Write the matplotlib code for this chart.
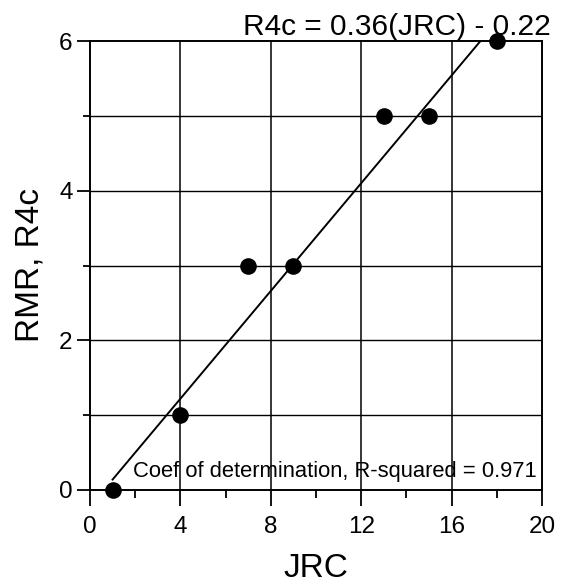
import numpy as np
import matplotlib
matplotlib.use("Agg")
import matplotlib.pyplot as plt
from matplotlib.ticker import MultipleLocator

# datos
jrc = [1, 4, 7, 9, 13, 15, 18]
r4c = [0, 1, 3, 3, 5, 5, 6]
pendiente = 0.36
intercepto = -0.22
x_linea = [1, 17.28]
r_cuadrado = 0.971

plt.rcParams['font.family'] = ['Liberation Sans', 'DejaVu Sans']

fig = plt.figure(figsize=(5.64, 5.87), dpi=100)
ax = fig.add_axes([90 / 564, 1 - 490 / 587, 452 / 564, 449 / 587])

ax.set_xlim(0, 20)
ax.set_ylim(0, 6)

# cuadrícula
for gx in [4, 8, 12, 16]:
    ax.axvline(gx, color="black", linewidth=1.1, zorder=1)
for gy in [1, 2, 3, 4, 5]:
    ax.axhline(gy, color="black", linewidth=1.0, zorder=1)

# recta de ajuste
xs = np.array(x_linea)
ax.plot(xs, pendiente * xs + intercepto, color="black", linewidth=1.4, zorder=2)

# puntos
ax.scatter(jrc, r4c, s=120, color="black", zorder=3, clip_on=False)

ax.xaxis.set_major_locator(MultipleLocator(4))
ax.xaxis.set_minor_locator(MultipleLocator(2))
ax.yaxis.set_major_locator(MultipleLocator(2))
ax.yaxis.set_minor_locator(MultipleLocator(1))
ax.tick_params(axis="x", which="major", length=11.5, width=1.3, labelsize=17.5, pad=7)
ax.tick_params(axis="x", which="minor", length=6, width=1.3)
ax.tick_params(axis="y", which="major", length=9.5, width=1.3, labelsize=17.5, pad=3)
ax.tick_params(axis="y", which="minor", length=5, width=1.3)

for spine in ax.spines.values():
    spine.set_linewidth(1.4)

ax.set_xlabel("JRC", fontsize=24, labelpad=11)
ax.set_ylabel("RMR, R4c", fontsize=24, labelpad=10)

ax.text(1.02, 1.0134, "R4c = 0.36(JRC) - 0.22", transform=ax.transAxes,
        ha="right", va="baseline", fontsize=21.5)
ax.text(0.989, 0.029, f"Coef of determination, R-squared = {r_cuadrado}",
        transform=ax.transAxes, ha="right", va="baseline", fontsize=15.8, zorder=4)

fig.savefig("out.png", dpi=100)
